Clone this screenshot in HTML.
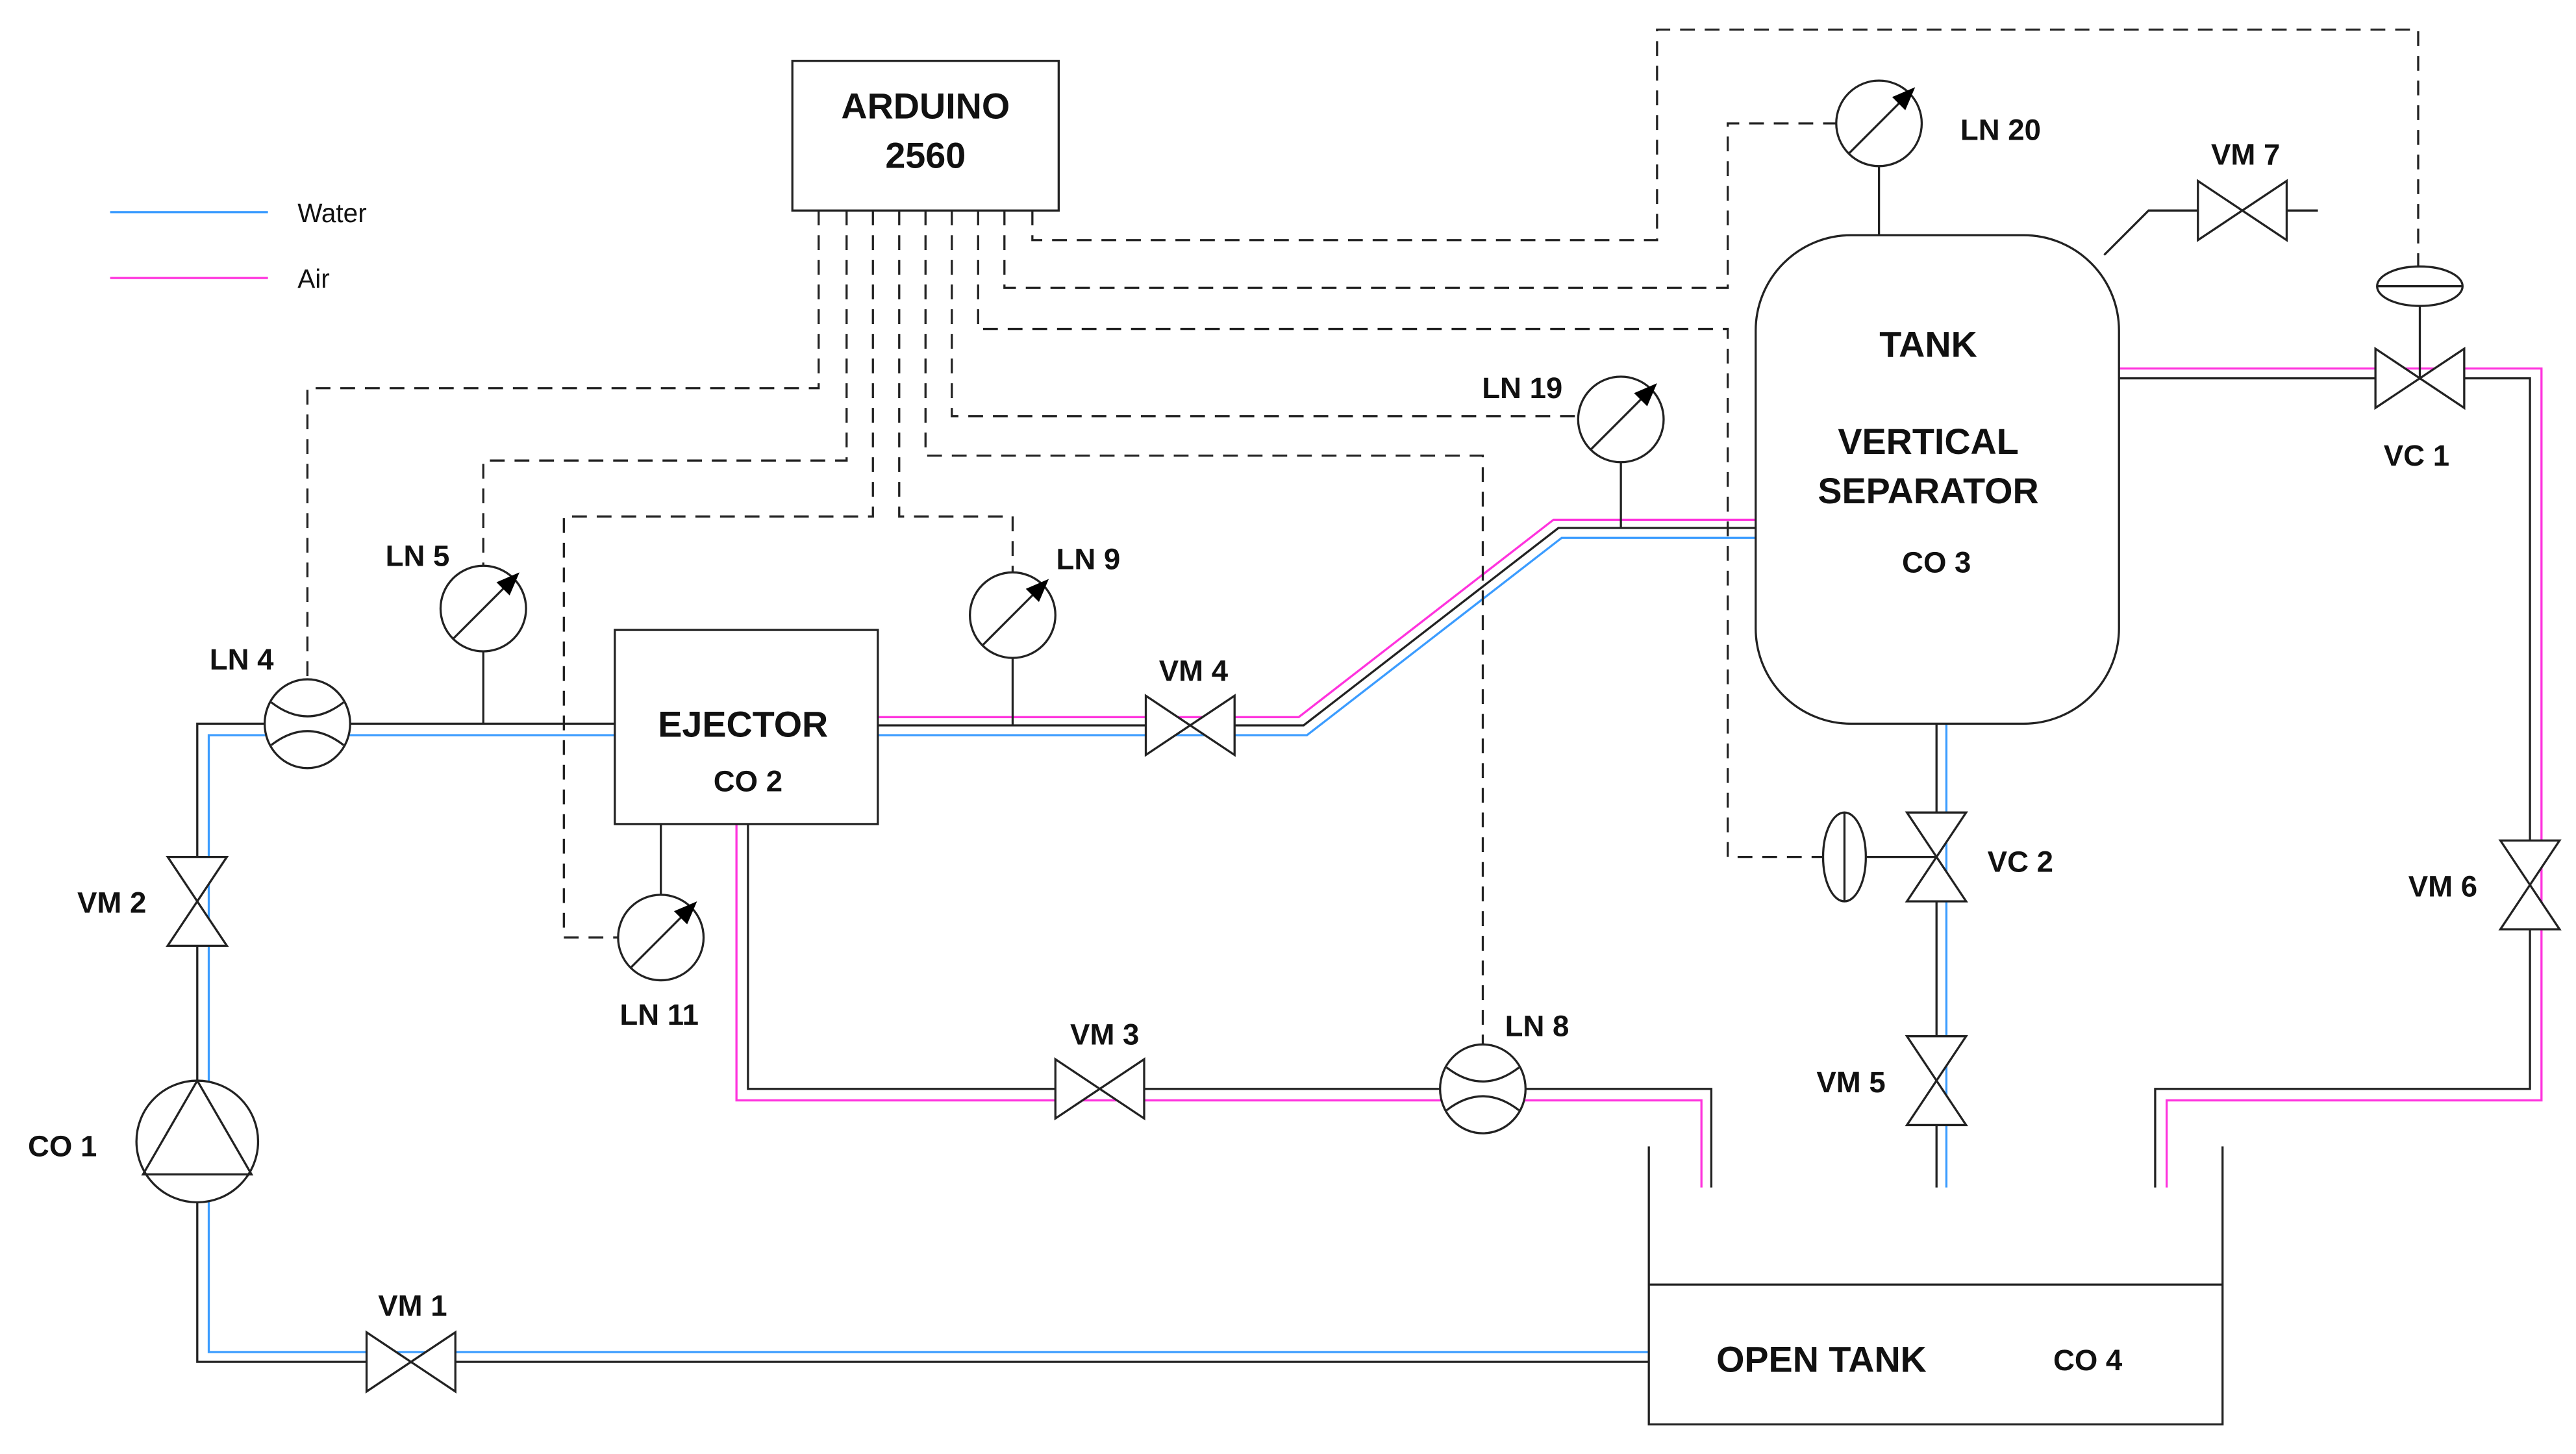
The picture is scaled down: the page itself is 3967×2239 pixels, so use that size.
<!DOCTYPE html>
<html><head><meta charset="utf-8"><style>html,body{margin:0;padding:0;background:#fff}svg{display:block}</style></head>
<body>
<svg width="3967" height="2239" viewBox="0 0 1567 884" preserveAspectRatio="none" xmlns="http://www.w3.org/2000/svg">
<defs>
<g id="gauge"><circle cx="0" cy="0" r="26" fill="#fff" stroke="#222" stroke-width="1.3"/><line x1="-18" y1="18" x2="16" y2="-16" stroke="#222" stroke-width="1.3"/><polygon points="22,-22 8,-16 16,-8" fill="#000"/></g>
<g id="flow"><ellipse cx="0" cy="0" rx="26" ry="27" fill="#fff" stroke="#222" stroke-width="1.3"/><path d="M-22,-13 Q0,4 22,-13 M-22,13 Q0,-4 22,13" fill="none" stroke="#222" stroke-width="1.3"/></g>
<g id="vh"><polygon points="-27,-18 27,18 27,-18 -27,18" fill="#fff" stroke="#222" stroke-width="1.3"/></g>
<g id="vv"><polygon points="-18,-27 18,27 -18,27 18,-27" fill="#fff" stroke="#222" stroke-width="1.3"/></g>
</defs>
<rect width="1567" height="884" fill="#fff"/>
<g fill="none" stroke-width="1.3">
<!-- legend -->
<line x1="67" y1="129" x2="163" y2="129" stroke="#3b9cff"/>
<line x1="67" y1="169" x2="163" y2="169" stroke="#ff33dd"/>
<!-- left loop -->
<polyline points="374,440 120,440 120,828 1003,828" stroke="#222"/>
<polyline points="374,447 127,447 127,822 1003,822" stroke="#3b9cff"/>
<!-- ejector to tank -->
<polyline points="534,436 790,436 945,316 1068,316" stroke="#ff33dd"/>
<polyline points="534,441 793,441 948,321 1068,321" stroke="#222"/>
<polyline points="534,447 795,447 950,327 1068,327" stroke="#3b9cff"/>
<!-- ejector bottom -->
<polyline points="448,501 448,669 1035,669 1035,722" stroke="#ff33dd"/>
<polyline points="455,501 455,662 1041,662 1041,722" stroke="#222"/>
<!-- tank bottom -->
<line x1="1178" y1="440" x2="1178" y2="722" stroke="#222"/>
<line x1="1184" y1="440" x2="1184" y2="722" stroke="#3b9cff"/>
<!-- right -->
<polyline points="1289,224 1546,224 1546,669 1318,669 1318,722" stroke="#ff33dd"/>
<polyline points="1289,230 1539,230 1539,662 1311,662 1311,722" stroke="#222"/>
<!-- open tank -->
<polyline points="1003,697 1003,866 1352,866 1352,697" stroke="#222"/>
<line x1="1003" y1="781" x2="1352" y2="781" stroke="#222"/>
<!-- boxes -->
<rect x="482" y="37" width="162" height="91" fill="#fff" stroke="#222"/>
<rect x="374" y="383" width="160" height="118" fill="#fff" stroke="#222"/>
<rect x="1068" y="143" width="221" height="297" rx="58" fill="#fff" stroke="#222"/>
<!-- VM7 line -->
<polyline points="1280,155 1307,128 1410,128" stroke="#222"/>
<!-- stems -->
<line x1="294" y1="396" x2="294" y2="440" stroke="#222"/>
<line x1="616" y1="400" x2="616" y2="441" stroke="#222"/>
<line x1="402" y1="501" x2="402" y2="544" stroke="#222"/>
<line x1="986" y1="281" x2="986" y2="321" stroke="#222"/>
<line x1="1143" y1="101" x2="1143" y2="143" stroke="#222"/>
<line x1="1472" y1="186" x2="1472" y2="230" stroke="#222"/>
<line x1="1135" y1="521" x2="1178" y2="521" stroke="#222"/>
<!-- dashed -->
<g stroke="#222" stroke-dasharray="9,6">
<polyline points="498,128 498,236 187,236 187,413"/>
<polyline points="515,128 515,280 294,280 294,344"/>
<polyline points="531,128 531,314 343,314 343,570 376,570"/>
<polyline points="547,128 547,314 616,314 616,348"/>
<polyline points="563,128 563,277 902,277 902,635"/>
<polyline points="579,128 579,253 960,253"/>
<polyline points="595,128 595,200 1051,200 1051,521 1109,521"/>
<polyline points="611,128 611,175 1051,175 1051,75 1117,75"/>
<polyline points="628,128 628,146 1008,146 1008,18 1471,18 1471,162"/>
</g>
</g>
<!-- actuators -->
<ellipse cx="1472" cy="174" rx="26" ry="12" fill="#fff" stroke="#222" stroke-width="1.3"/>
<line x1="1446" y1="174" x2="1498" y2="174" stroke="#222" stroke-width="1.3"/>
<ellipse cx="1122" cy="521" rx="13" ry="27" fill="#fff" stroke="#222" stroke-width="1.3"/>
<line x1="1122" y1="494" x2="1122" y2="548" stroke="#222" stroke-width="1.3"/>
<!-- pump -->
<circle cx="120" cy="694" r="37" fill="#fff" stroke="#222" stroke-width="1.3"/>
<polygon points="120,657 87,714 153,714" fill="none" stroke="#222" stroke-width="1.3"/>
<!-- instruments -->
<use href="#gauge" x="294" y="370"/>
<use href="#gauge" x="616" y="374"/>
<use href="#gauge" x="402" y="570"/>
<use href="#gauge" x="986" y="255"/>
<use href="#gauge" x="1143" y="75"/>
<use href="#flow" x="187" y="440"/>
<use href="#flow" x="902" y="662"/>
<use href="#vh" x="250" y="828"/>
<use href="#vh" x="669" y="662"/>
<use href="#vh" x="724" y="441"/>
<use href="#vh" x="1364" y="128"/>
<use href="#vh" x="1472" y="230"/>
<use href="#vv" x="120" y="548"/>
<use href="#vv" x="1178" y="657"/>
<use href="#vv" x="1178" y="521"/>
<use href="#vv" x="1539" y="538"/>
<!-- text -->
<g font-family="Liberation Sans, Arial, sans-serif" font-weight="bold" fill="#111" font-size="18">
<text x="181" y="135" font-weight="normal" font-size="16">Water</text>
<text x="181" y="175" font-weight="normal" font-size="16">Air</text>
<g text-anchor="middle" font-size="22">
<text x="563" y="72">ARDUINO</text>
<text x="563" y="102">2560</text>
<text x="452" y="448">EJECTOR</text>
<text x="1173" y="217">TANK</text>
<text x="1173" y="276">VERTICAL</text>
<text x="1173" y="306">SEPARATOR</text>
<text x="1108" y="834">OPEN TANK</text>
</g>
<g text-anchor="middle">
<text x="455" y="481">CO 2</text>
<text x="1178" y="348">CO 3</text>
<text x="1270" y="833">CO 4</text>
<text x="38" y="703">CO 1</text>
<text x="1217" y="85">LN 20</text>
<text x="1366" y="100">VM 7</text>
<text x="1470" y="283">VC 1</text>
<text x="926" y="242">LN 19</text>
<text x="662" y="346">LN 9</text>
<text x="254" y="344">LN 5</text>
<text x="147" y="407">LN 4</text>
<text x="726" y="414">VM 4</text>
<text x="68" y="555">VM 2</text>
<text x="1229" y="530">VC 2</text>
<text x="1486" y="545">VM 6</text>
<text x="401" y="623">LN 11</text>
<text x="672" y="635">VM 3</text>
<text x="935" y="630">LN 8</text>
<text x="1126" y="664">VM 5</text>
<text x="251" y="800">VM 1</text>
</g>
</g>
</svg>
</body></html>
